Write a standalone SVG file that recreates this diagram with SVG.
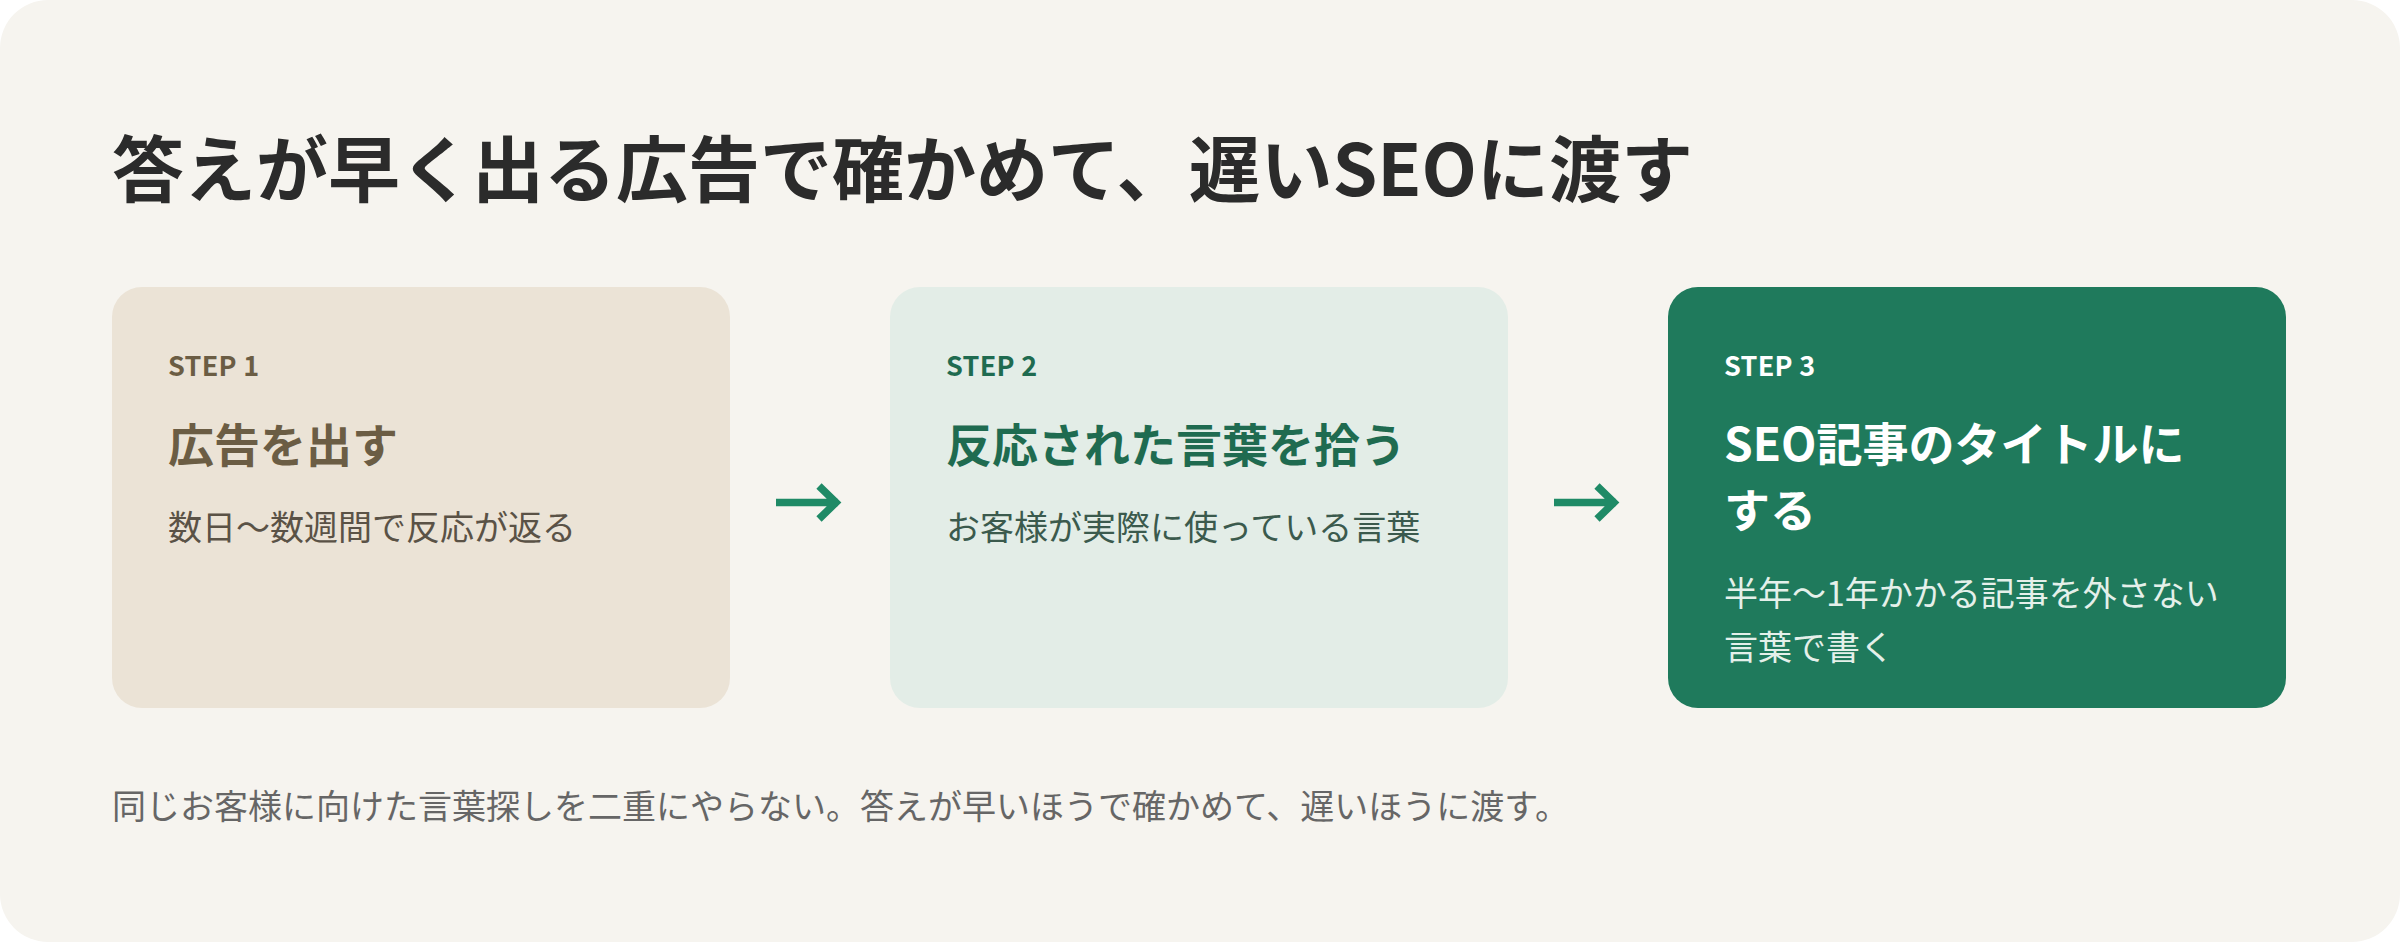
<svg xmlns="http://www.w3.org/2000/svg" width="2400" height="942" viewBox="0 0 2400 942">
<style>
text{font-family:"Noto Sans CJK JP","Noto Sans",sans-serif}
.title{font-size:72px;font-weight:700;fill:#2b2b2b}
.step{font-size:27px;font-weight:700;letter-spacing:0.3px}
.head{font-size:46px;font-weight:700}
.sub{font-size:34px;font-weight:400}
.foot{font-size:34px;font-weight:400;fill:#666666}
.arrow{fill:none;stroke:#1f8a66;stroke-width:7.5;stroke-linecap:butt;stroke-linejoin:miter}
</style>
<rect x="0" y="0" width="2400" height="942" fill="#ffffff"/>
<rect x="0" y="0" width="2400" height="942" rx="48" ry="48" fill="#f6f4ef"/>
<text class="title" x="112" y="196">答えが早く出る広告で確かめて、遅いSEOに渡す</text>
<g id="step1">
<rect x="112" y="287" width="618" height="421" rx="30" ry="30" fill="#ebe3d6"/>
<text class="step" x="168" y="376" fill="#6b5d44">STEP 1</text>
<text class="head" x="168" y="462" fill="#6b5d44">広告を出す</text>
<text class="sub" x="168" y="540" fill="#5a5246">数日〜数週間で反応が返る</text>
</g>
<g id="step2">
<rect x="890" y="287" width="618" height="421" rx="30" ry="30" fill="#e3ede7"/>
<text class="step" x="946" y="376" fill="#1f6b50">STEP 2</text>
<text class="head" x="946" y="462" fill="#1f6b50">反応された言葉を拾う</text>
<text class="sub" x="946" y="540" fill="#3b5a4d">お客様が実際に使っている言葉</text>
</g>
<g id="step3">
<rect x="1668" y="287" width="618" height="421" rx="30" ry="30" fill="#1f7a5c"/>
<text class="step" x="1724" y="376" fill="#ffffff">STEP 3</text>
<text class="head" x="1724" y="461" fill="#ffffff">SEO記事のタイトルに</text>
<text class="head" x="1724" y="527" fill="#ffffff">する</text>
<text class="sub" x="1724" y="606" fill="#e4f0ea">半年〜1年かかる記事を外さない</text>
<text class="sub" x="1724" y="660" fill="#e4f0ea">言葉で書く</text>
</g>
<g id="connectors">
<path class="arrow" d="M776 502.5H838M819 486L836 502.5L819 519"/>
<path class="arrow" d="M1554 502.5H1616M1597 486L1614 502.5L1597 519"/>
</g>
<text class="foot" x="112" y="819">同じお客様に向けた言葉探しを二重にやらない。答えが早いほうで確かめて、遅いほうに渡す。</text>
</svg>
